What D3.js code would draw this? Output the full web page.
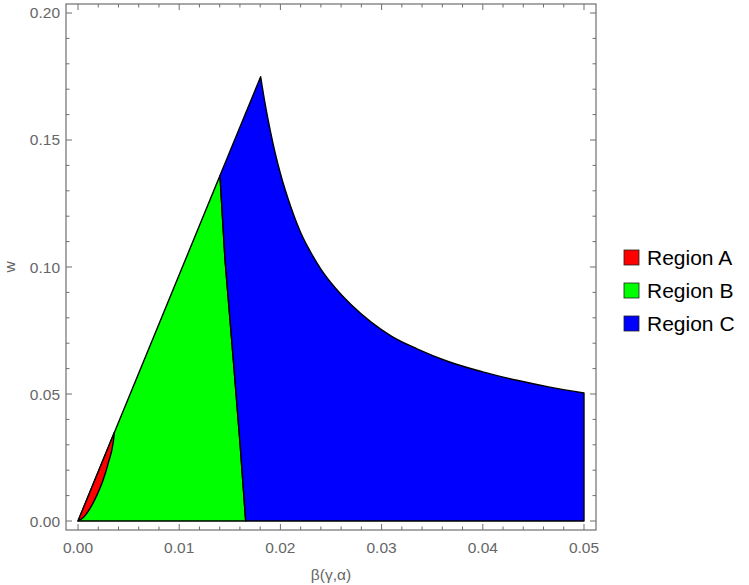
<!DOCTYPE html>
<html>
<head>
<meta charset="utf-8">
<script src="https://cdn.jsdelivr.net/npm/d3@7"></script>
<style>
  html, body { margin: 0; padding: 0; background: #fff; }
  svg { display: block; }
</style>
</head>
<body>
<svg id="chart" width="749" height="585"></svg>
<script>
// ---------- data ----------
const xTicks = [0.00, 0.01, 0.02, 0.03, 0.04, 0.05];
const xTickLabels = ["0.00", "0.01", "0.02", "0.03", "0.04", "0.05"];
const yTicks = [0.00, 0.05, 0.10, 0.15, 0.20];
const yTickLabels = ["0.00", "0.05", "0.10", "0.15", "0.20"];

// straight upper edge : origin, red tip, green top, peak
const edgeBeta = [0, 0.0036, 0.01403, 0.01805];
const edgeW    = [0, 0.0349, 0.1360, 0.1749];

// lower boundary of region A (from origin up to the red tip)
const redLowerBeta = [0, 0.00052, 0.00119, 0.00185, 0.00250, 0.00299, 0.00349, 0.0036];
const redLowerW    = [0, 0.0014, 0.0050, 0.0100, 0.0163, 0.0228, 0.0312, 0.0349];

// boundary between region B and region C (top to bottom)
const bcBeta = [0.01403, 0.01453, 0.01535, 0.01601, 0.01657];
const bcW    = [0.1360, 0.1028, 0.0634, 0.0307, 0];

// upper curve of region C (from peak to right edge)
const cCurveBeta = [0.01805, 0.0185, 0.0190, 0.0195, 0.0200, 0.0210, 0.0220, 0.0230, 0.0240,
                    0.0250, 0.0270, 0.0290, 0.0310, 0.0335, 0.0365, 0.0400, 0.0435, 0.0465, 0.0500];
const cCurveW    = [0.1749, 0.1640, 0.1537, 0.1446, 0.1368, 0.1240, 0.1136, 0.1058, 0.0992,
                    0.0938, 0.0851, 0.0782, 0.0727, 0.0678, 0.0629, 0.0587, 0.0553, 0.0528, 0.0504];

const regionNames  = ["Region A", "Region B", "Region C"];
const regionColors = ["#ff0000", "#00ff00", "#0000ff"];

// ---------- layout ----------
const svg = d3.select("#chart");
const frame = { left: 66, right: 596, top: 4, bottom: 530 };

const x = d3.scaleLinear().domain([-0.001186, 0.051186]).range([frame.left, frame.right]);
const y = d3.scaleLinear().domain([-0.003543, 0.203543]).range([frame.bottom, frame.top]);

const zip = (a, b) => a.map((v, i) => [v, b[i]]);
const lin = d3.line().x(d => x(d[0])).y(d => y(d[1]));
const smooth = d3.line().x(d => x(d[0])).y(d => y(d[1])).curve(d3.curveMonotoneX);
// continue a path with a segment (strip leading M and make it L)
const cont = (gen, pts) => "L" + gen(pts).slice(1);

const edge = zip(edgeBeta, edgeW);
const redLower = zip(redLowerBeta, redLowerW);
const bc = zip(bcBeta, bcW);
const cCurve = zip(cCurveBeta, cCurveW);

// Region B: origin -> along edge to B top -> down B/C boundary -> bottom back to origin
const pathB = lin([edge[0], edge[1], edge[2]]) + cont(lin, bc) + "Z";
// Region C: B top -> peak -> curve -> right edge -> bottom -> up boundary
const pathC = lin([edge[2], edge[3]]) + cont(smooth, cCurve) +
  cont(lin, [[0.05, 0], [bcBeta[bcBeta.length - 1], 0]]) + cont(lin, bc.slice().reverse()) + "Z";
// Region A: origin -> edge to tip -> lower curve back to origin
const pathA = lin([edge[0], edge[1]]) + cont(smooth, redLower.slice().reverse()) + "Z";

svg.append("defs").append("clipPath").attr("id", "clip")
  .append("rect").attr("x", frame.left).attr("y", frame.top)
  .attr("width", frame.right - frame.left).attr("height", frame.bottom - frame.top);

const plot = svg.append("g").attr("clip-path", "url(#clip)");
[[pathB, regionColors[1]], [pathC, regionColors[2]], [pathA, regionColors[0]]].forEach(([p, c]) => {
  plot.append("path").attr("d", p).attr("fill", c)
    .attr("stroke", "#000").attr("stroke-width", 1.4).attr("stroke-linejoin", "round");
});

// ---------- frame & ticks ----------
const axisColor = "#6e6e6e";
const labelColor = "#666";

svg.append("rect").attr("x", frame.left).attr("y", frame.top)
  .attr("width", frame.right - frame.left).attr("height", frame.bottom - frame.top)
  .attr("fill", "none").attr("stroke", axisColor).attr("stroke-width", 1.2);

const xMinor = d3.range(0, 0.0501, 0.002).filter(v => !xTicks.some(t => Math.abs(t - v) < 1e-9));
const yMinor = d3.range(0, 0.2001, 0.01).filter(v => !yTicks.some(t => Math.abs(t - v) < 1e-9));

const ticks = svg.append("g").attr("stroke", axisColor).attr("stroke-width", 1);
function xTick(v, len) {
  ticks.append("line").attr("x1", x(v)).attr("x2", x(v)).attr("y1", frame.bottom).attr("y2", frame.bottom - len);
  ticks.append("line").attr("x1", x(v)).attr("x2", x(v)).attr("y1", frame.top).attr("y2", frame.top + len);
}
function yTick(v, len) {
  ticks.append("line").attr("y1", y(v)).attr("y2", y(v)).attr("x1", frame.left).attr("x2", frame.left + len);
  ticks.append("line").attr("y1", y(v)).attr("y2", y(v)).attr("x1", frame.right).attr("x2", frame.right - len);
}
xTicks.forEach(v => xTick(v, 6));
xMinor.forEach(v => xTick(v, 3.5));
yTicks.forEach(v => yTick(v, 6));
yMinor.forEach(v => yTick(v, 3.5));

const font = "'Liberation Sans', Arial, sans-serif";
svg.append("g").selectAll("text").data(xTicks).join("text")
  .attr("x", d => x(d)).attr("y", frame.bottom + 23)
  .attr("text-anchor", "middle").attr("font-family", font).attr("font-size", 15.5)
  .attr("fill", labelColor).text((d, i) => xTickLabels[i]);

svg.append("g").selectAll("text").data(yTicks).join("text")
  .attr("x", frame.left - 6).attr("y", d => y(d) + 5.5)
  .attr("text-anchor", "end").attr("font-family", font).attr("font-size", 15.5)
  .attr("fill", labelColor).text((d, i) => yTickLabels[i]);

svg.append("text").attr("x", (frame.left + frame.right) / 2).attr("y", 580)
  .attr("text-anchor", "middle").attr("font-family", font).attr("font-size", 15.5)
  .attr("fill", labelColor).text("β(γ,α)");

svg.append("text").attr("transform", `translate(15, ${y(0.1)}) rotate(-90)`)
  .attr("text-anchor", "middle").attr("font-family", font).attr("font-size", 15.5)
  .attr("fill", labelColor).text("w");

// ---------- legend ----------
const legend = svg.append("g").attr("transform", "translate(624, 250)");
regionNames.forEach((name, i) => {
  const g = legend.append("g").attr("transform", `translate(0, ${i * 33})`);
  g.append("rect").attr("x", 0).attr("y", 0).attr("width", 15).attr("height", 15)
    .attr("fill", regionColors[i]).attr("stroke", "#222").attr("stroke-width", 0.8);
  g.append("text").attr("x", 23).attr("y", 15).attr("font-family", font)
    .attr("font-size", 21).attr("fill", "#000").text(name);
});
</script>
</body>
</html>
